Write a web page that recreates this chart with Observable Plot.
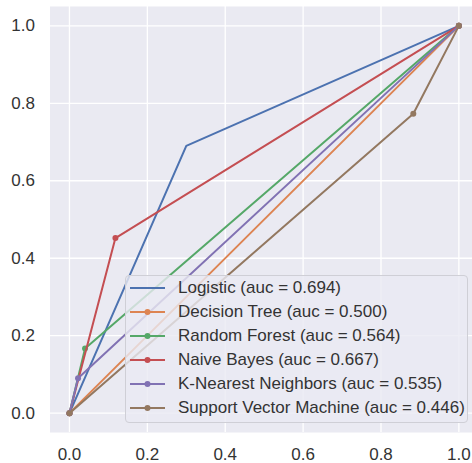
<!DOCTYPE html>
<html><head><meta charset="utf-8">
<script src="https://cdn.jsdelivr.net/npm/d3@7"></script>
<script src="https://cdn.jsdelivr.net/npm/@observablehq/plot@0.6"></script>
<style>
body{margin:0;background:#fff;font-family:"Liberation Sans",Arial,sans-serif;}
#wrap{position:relative;width:472px;height:463px;}
#legend{position:absolute;left:125px;top:275px;width:341px;height:146px;border:1px solid #cfcfd6;border-radius:4px;background:rgba(234,234,242,0.8);}
.row{height:24px;display:flex;align-items:center;font-size:17px;color:#333;white-space:nowrap}
.row svg{margin-left:4px;margin-right:13px;flex:none}
</style></head><body><div id="wrap"></div>
<script>
const models = ["Logistic","Decision Tree","Random Forest","Naive Bayes","K-Nearest Neighbors","Support Vector Machine"];
const aucs = ["0.694","0.500","0.564","0.667","0.535","0.446"];
const colors = ["#4C72B0","#DD8452","#55A868","#C44E52","#8172B3","#937860"];
const fpr = [[0,0.30,1],[0,1],[0,0.04,1],[0,0.118,1],[0,0.022,1],[0,0.883,1]];
const tpr = [[0,0.69,1],[0,1],[0,0.167,1],[0,0.452,1],[0,0.09,1],[0,0.773,1]];
const showMarkers = [false,true,true,true,true,true];
const ticks = [0,0.2,0.4,0.6,0.8,1.0];

const rows = models.flatMap((m,i)=>fpr[i].map((x,j)=>({model:m, fpr:x, tpr:tpr[i][j]})));

const marks = [
  Plot.frame({fill:"#EAEAF2", stroke:"none"}),
  Plot.gridX(ticks,{stroke:"#fff",strokeOpacity:1,strokeWidth:1.3}),
  Plot.gridY(ticks,{stroke:"#fff",strokeOpacity:1,strokeWidth:1.3})
];
models.forEach((m,i)=>{
  const d = rows.filter(r=>r.model===m);
  marks.push(Plot.line(d,{x:"fpr",y:"tpr",stroke:colors[i],strokeWidth:2}));
  if (showMarkers[i]) marks.push(Plot.dot(d,{x:"fpr",y:"tpr",fill:colors[i],r:3}));
});
marks.push(Plot.axisX(ticks,{tickSize:0,tickPadding:15,fontSize:17,tickFormat:d3.format(".1f"),label:null}));
marks.push(Plot.axisY(ticks,{tickSize:0,tickPadding:15,fontSize:17,tickFormat:d3.format(".1f"),label:null}));

const chart = Plot.plot({
  width:472, height:463,
  marginLeft:49.5, marginRight:0, marginTop:6, marginBottom:31,
  x:{domain:[-0.05,1.035], label:null},
  y:{domain:[-0.05,1.05], label:null},
  style:{color:"#333", fontFamily:"'Liberation Sans', Arial, sans-serif", background:"transparent", overflow:"visible"},
  marks
});
const wrap = document.getElementById("wrap");
wrap.appendChild(chart);

const legend = document.createElement("div");
legend.id = "legend";
models.forEach((m,i)=>{
  const row = document.createElement("div");
  row.className = "row";
  const ns = "http://www.w3.org/2000/svg";
  const svg = document.createElementNS(ns,"svg");
  svg.setAttribute("width","35"); svg.setAttribute("height","24");
  const ln = document.createElementNS(ns,"line");
  ln.setAttribute("x1","0"); ln.setAttribute("x2","35"); ln.setAttribute("y1","12"); ln.setAttribute("y2","12");
  ln.setAttribute("stroke",colors[i]); ln.setAttribute("stroke-width","2");
  svg.appendChild(ln);
  if (showMarkers[i]) {
    const c = document.createElementNS(ns,"circle");
    c.setAttribute("cx","17.5"); c.setAttribute("cy","12"); c.setAttribute("r","3"); c.setAttribute("fill",colors[i]);
    svg.appendChild(c);
  }
  row.appendChild(svg);
  const span = document.createElement("span");
  span.textContent = `${m} (auc = ${aucs[i]})`;
  row.appendChild(span);
  legend.appendChild(row);
});
wrap.appendChild(legend);
</script></body></html>
